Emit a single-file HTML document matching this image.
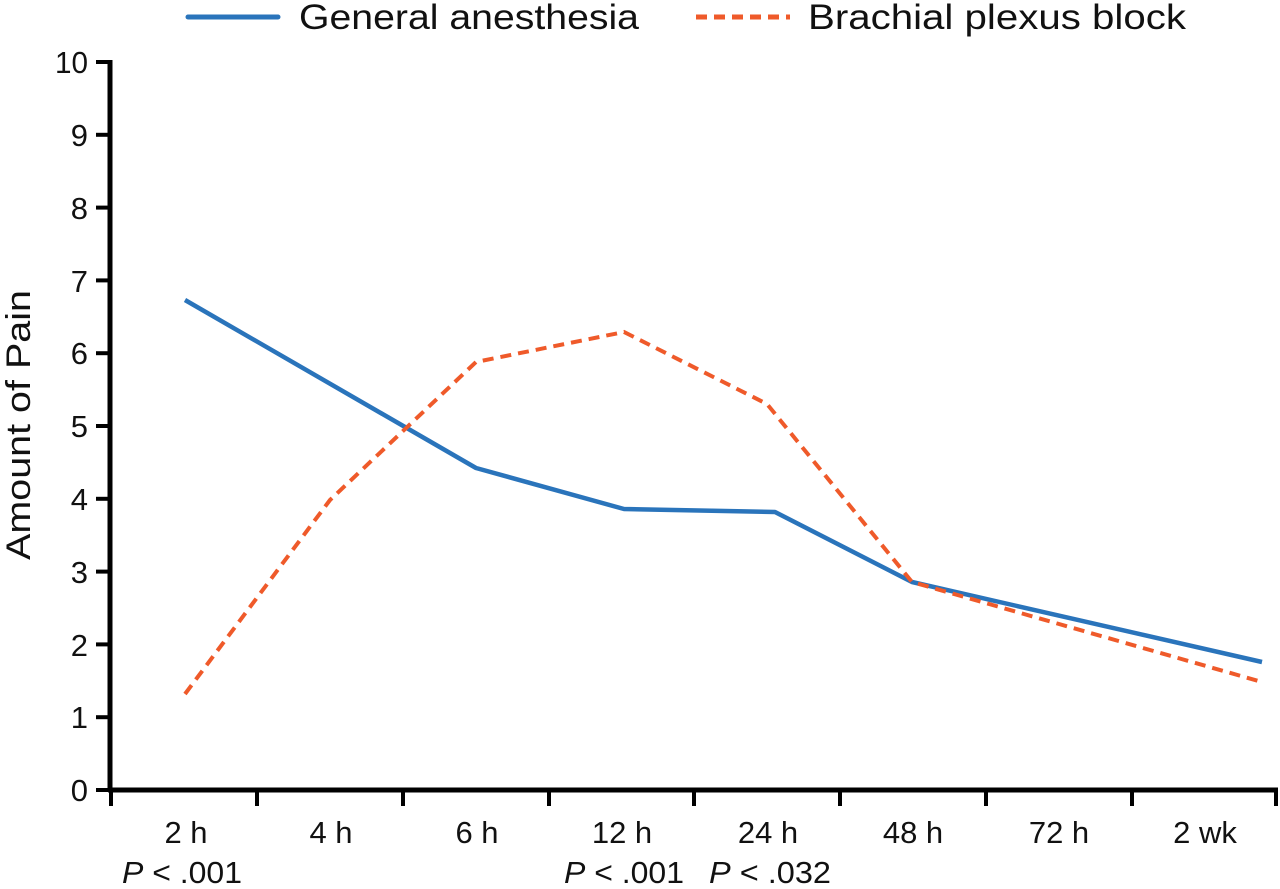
<!DOCTYPE html>
<html><head><meta charset="utf-8"><style>
body{margin:0;background:#fff}
svg text{font-family:"Liberation Sans",sans-serif;fill:#111}
</style></head><body>
<svg width="1280" height="884" viewBox="0 0 1280 884" xmlns="http://www.w3.org/2000/svg">
<line x1="188" y1="17" x2="278" y2="17" stroke="#2a74bb" stroke-width="5" stroke-linecap="round"/>
<text x="299" y="29" font-size="35" textLength="340" lengthAdjust="spacingAndGlyphs">General anesthesia</text>
<line x1="696" y1="17" x2="790" y2="17" stroke="#ef5a2a" stroke-width="5" stroke-dasharray="11,7"/>
<text x="808" y="29" font-size="35" textLength="378" lengthAdjust="spacingAndGlyphs">Brachial plexus block</text>
<g stroke="#000" stroke-width="5">
<line x1="110" y1="60" x2="110" y2="792"/>
<line x1="108" y1="790" x2="1278" y2="790"/>
</g>
<g stroke="#000" stroke-width="4">
<line x1="96" y1="62" x2="110" y2="62"/><line x1="96" y1="134.8" x2="110" y2="134.8"/>
<line x1="96" y1="207.6" x2="110" y2="207.6"/><line x1="96" y1="280.4" x2="110" y2="280.4"/>
<line x1="96" y1="353.2" x2="110" y2="353.2"/><line x1="96" y1="426" x2="110" y2="426"/>
<line x1="96" y1="498.8" x2="110" y2="498.8"/><line x1="96" y1="571.6" x2="110" y2="571.6"/>
<line x1="96" y1="644.4" x2="110" y2="644.4"/><line x1="96" y1="717.2" x2="110" y2="717.2"/>
<line x1="96" y1="790" x2="110" y2="790"/>
<line x1="111" y1="790" x2="111" y2="806"/><line x1="257" y1="790" x2="257" y2="806"/>
<line x1="403" y1="790" x2="403" y2="806"/><line x1="549" y1="790" x2="549" y2="806"/>
<line x1="694" y1="790" x2="694" y2="806"/><line x1="840" y1="790" x2="840" y2="806"/>
<line x1="986" y1="790" x2="986" y2="806"/><line x1="1132" y1="790" x2="1132" y2="806"/>
<line x1="1276" y1="790" x2="1276" y2="806"/>
</g>
<g font-size="31" text-anchor="end">
<text x="88" y="73" textLength="33" lengthAdjust="spacingAndGlyphs">10</text><text x="88" y="146">9</text><text x="88" y="219">8</text>
<text x="88" y="292">7</text><text x="88" y="364">6</text><text x="88" y="437">5</text>
<text x="88" y="510">4</text><text x="88" y="583">3</text><text x="88" y="656">2</text>
<text x="88" y="728">1</text><text x="88" y="801">0</text>
</g>
<text transform="translate(30,425) rotate(-90)" font-size="34" text-anchor="middle" textLength="270" lengthAdjust="spacingAndGlyphs">Amount of Pain</text>
<g font-size="31" text-anchor="middle">
<text x="186" y="843">2 h</text><text x="331" y="843">4 h</text><text x="477" y="843">6 h</text>
<text x="622" y="843">12 h</text><text x="768" y="843">24 h</text><text x="913" y="843">48 h</text>
<text x="1059" y="843">72 h</text><text x="1205" y="843">2 wk</text>
<text x="182" y="883" textLength="120" lengthAdjust="spacingAndGlyphs"><tspan font-style="italic">P</tspan> &lt; .001</text>
<text x="624" y="883" textLength="120" lengthAdjust="spacingAndGlyphs"><tspan font-style="italic">P</tspan> &lt; .001</text>
<text x="770" y="883" textLength="122" lengthAdjust="spacingAndGlyphs"><tspan font-style="italic">P</tspan> &lt; .032</text>
</g>
<polyline fill="none" stroke="#2a74bb" stroke-width="4.5" stroke-linejoin="round" points="185,300 476,468 624,509 775,512 912,582 1262,662"/>
<polyline fill="none" stroke="#ef5a2a" stroke-width="4" stroke-dasharray="11,7" points="185,694 330,500 476,362 624,332 767,404 912,582 1262,682"/>
</svg>
</body></html>
